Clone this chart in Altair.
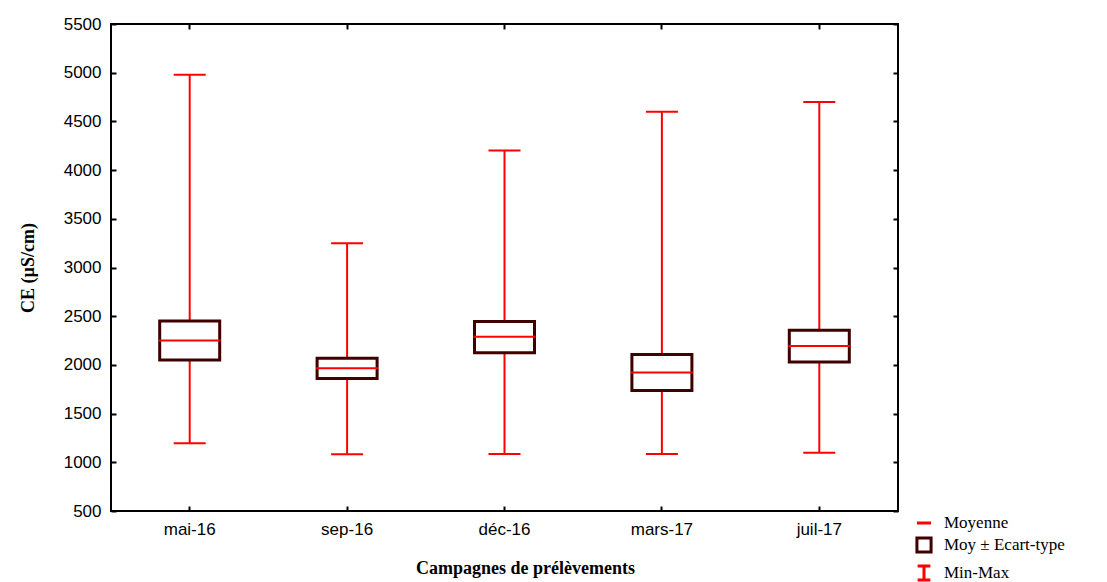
import altair as alt
import pandas as pd

categories = ["mai-16", "sep-16", "déc-16", "mars-17", "juil-17"]
means = [2250, 1965, 2290, 1922, 2195]
sd_low = [2050, 1860, 2125, 1737, 2030]
sd_high = [2450, 2068, 2445, 2107, 2355]
mins = [1195, 1082, 1085, 1085, 1098]
maxs = [4978, 3248, 4200, 4598, 4700]
y_ticks = [500, 1000, 1500, 2000, 2500, 3000, 3500, 4000, 4500, 5000, 5500]
legend_items = ["Moyenne", "Moy ± Ecart-type", "Min-Max"]

RED = "#ff0000"
DARK = "#3f0000"

df = pd.DataFrame(dict(cat=categories, mean=means, lo=sd_low, hi=sd_high, mn=mins, mx=maxs))
leg_df = pd.DataFrame(dict(cat=[categories[0]] * 3, y=[means[0]] * 3, item=legend_items))

x_scale = alt.Scale(type="band", domain=categories, paddingInner=0, paddingOuter=0)
y_scale = alt.Scale(domain=[500, 5500], nice=False, zero=False)

common = dict(grid=False, domain=False, tickColor="black", tickWidth=2, offset=-5, tickSize=5)

left_axis = alt.Axis(orient="left", values=y_ticks, format="d", labelPadding=10,
                     labelFont="Liberation Sans", labelFontSize=17, labelColor="black",
                     title="CE (µS/cm)", titleFont="Liberation Serif", titleFontSize=18,
                     titleFontWeight="bold", titleColor="black", titlePadding=26, **common)
bottom_axis = alt.Axis(orient="bottom", labelPadding=10, labelAngle=0,
                       labelFont="Liberation Sans", labelFontSize=17, labelColor="black",
                       title="Campagnes de prélèvements", titleFont="Liberation Serif",
                       titleFontSize=18, titleFontWeight="bold", titleColor="black",
                       titlePadding=22, titleX=414, **common)
top_axis = alt.Axis(orient="top", labels=False, title=None, **common)
right_axis = alt.Axis(orient="right", values=y_ticks, labels=False, title=None, **common)

line_path = "M-1,0H1"
i_path = "M-0.9,-1H0.9M0,-1V1M-0.9,1H0.9"

leg = alt.Legend(title=None, orient="none", legendX=804, legendY=490,
                 labelFont="Liberation Serif", labelFontSize=17, labelColor="black",
                 symbolStrokeWidth=3, symbolSize=200, rowPadding=0, labelOffset=11,
                 symbolFillColor="transparent")

legend_layer = alt.Chart(leg_df).mark_point(filled=False, size=200, strokeWidth=3, opacity=1).encode(
    x=alt.X("cat:N", scale=x_scale, axis=bottom_axis),
    y=alt.Y("y:Q", scale=y_scale, axis=left_axis),
    shape=alt.Shape("item:N", scale=alt.Scale(domain=legend_items, range=[line_path, "square", i_path]), legend=leg),
    stroke=alt.Stroke("item:N", scale=alt.Scale(domain=legend_items, range=[RED, DARK, RED]), legend=leg),
)

whiskers = alt.Chart(df).mark_rule(color=RED, strokeWidth=2).encode(
    x=alt.X("cat:N", scale=x_scale, axis=top_axis),
    y=alt.Y("mn:Q", scale=y_scale, axis=right_axis),
    y2="mx:Q",
)

boxes = alt.Chart(df).mark_bar(size=60, fill="white", stroke=DARK, strokeWidth=3, opacity=1).encode(
    x=alt.X("cat:N", scale=x_scale, axis=None),
    y=alt.Y("lo:Q", scale=y_scale, axis=None),
    y2="hi:Q",
)

mean_ticks = alt.Chart(df).mark_tick(color=RED, size=62, thickness=2, opacity=1).encode(
    x=alt.X("cat:N", scale=x_scale, axis=None),
    y=alt.Y("mean:Q", scale=y_scale, axis=None),
)

cap_min = alt.Chart(df).mark_tick(color=RED, size=32, thickness=2, opacity=1).encode(
    x=alt.X("cat:N", scale=x_scale, axis=None),
    y=alt.Y("mn:Q", scale=y_scale, axis=None),
)

cap_max = alt.Chart(df).mark_tick(color=RED, size=32, thickness=2, opacity=1).encode(
    x=alt.X("cat:N", scale=x_scale, axis=None),
    y=alt.Y("mx:Q", scale=y_scale, axis=None),
)

chart = alt.layer(legend_layer, whiskers, boxes, mean_ticks, cap_min, cap_max).resolve_axis(
    x="independent", y="independent"
).properties(
    width=787,
    height=487,
    autosize=alt.AutoSizeParams(type="none"),
    padding={"left": 103, "top": 16, "right": 201, "bottom": 76},
    background="white",
).configure_view(stroke="black", strokeWidth=2)

chart.save("out.html", embed_options={"renderer": "svg", "actions": False})
